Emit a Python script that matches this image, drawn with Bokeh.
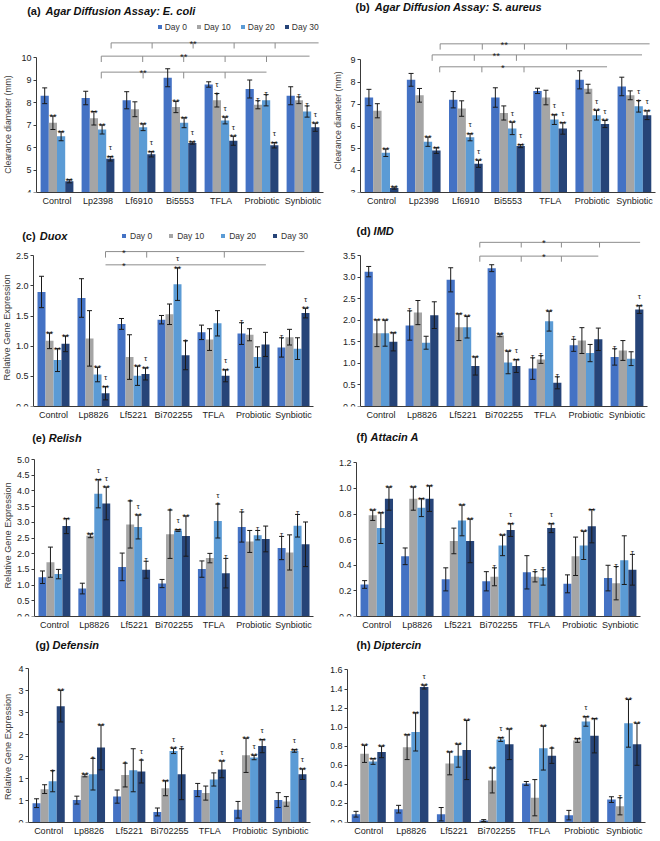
import math
from bokeh.plotting import figure
from bokeh.models import (ColumnDataSource, Range1d, FixedTicker,
                          PrintfTickFormatter, Whisker, TeeHead, Label, Legend, LegendItem)
from bokeh.transform import dodge
from bokeh.layouts import column, row
from bokeh.embed import file_html
from bokeh.resources import INLINE
from bokeh.core.properties import value

# ------------------------------------------------------------------ data
DAYS = ["Day 0", "Day 10", "Day 20", "Day 30"]
CATS_AB = ["Control", "Lp2398", "Lf6910", "Bi5553", "TFLA", "Probiotic", "Synbiotic"]
CATS_GENE = ["Control", "Lp8826", "Lf5221", "Bi702255", "TFLA", "Probiotic", "Synbiotic"]

# (a) Agar diffusion, E. coli  (rows = Day 0, 10, 20, 30)
A_MEAN = [[8.3, 8.2, 8.1, 9.1, 8.8, 8.6, 8.3],
          [7.1, 7.3, 7.7, 7.8, 8.1, 7.9, 8.1],
          [6.5, 6.8, 6.9, 7.1, 7.2, 8.1, 7.6],
          [4.5, 5.5, 5.7, 6.2, 6.3, 6.1, 6.9]]
A_ERR = [[0.35, 0.30, 0.38, 0.40, 0.12, 0.40, 0.40],
         [0.30, 0.30, 0.33, 0.25, 0.30, 0.18, 0.15],
         [0.20, 0.20, 0.15, 0.22, 0.15, 0.25, 0.25],
         [0.07, 0.10, 0.12, 0.05, 0.20, 0.12, 0.18]]
A_SIG = [["", "", "", "", "", "", ""],
         ["**", "**", "", "**", "τ*", "τ", "τ"],
         ["**", "**", "**", "**", "τ**", "τ", "τ"],
         ["**", "τ**", "τ**", "τ**", "τ**", "τ**", "τ**"]]

# (b) Agar diffusion, S. aureus
B_MEAN = [[7.3, 8.1, 7.2, 7.3, 7.6, 8.1, 7.8],
          [6.7, 7.4, 6.8, 6.6, 7.3, 7.7, 7.4],
          [4.8, 5.3, 5.5, 5.9, 6.3, 6.5, 6.9],
          [3.2, 4.9, 4.3, 5.1, 5.9, 6.1, 6.5]]
B_ERR = [[0.37, 0.29, 0.37, 0.44, 0.12, 0.41, 0.42],
         [0.32, 0.31, 0.35, 0.32, 0.33, 0.20, 0.20],
         [0.17, 0.21, 0.16, 0.28, 0.22, 0.22, 0.26],
         [0.05, 0.13, 0.16, 0.07, 0.26, 0.16, 0.20]]
B_SIG = [["", "", "", "", "", "", ""],
         ["", "", "", "", "", "", ""],
         ["**", "**", "τ**", "τ**", "τ**", "τ**", "τ*"],
         ["**", "**", "τ**", "τ**", "τ**", "τ**", "τ**"]]

# (c) Duox
C_MEAN = [[1.90, 1.80, 1.37, 1.44, 1.23, 1.21, 0.98],
          [1.09, 1.13, 0.82, 1.53, 1.11, 1.19, 1.15],
          [0.77, 0.53, 0.51, 2.03, 1.38, 0.82, 0.96],
          [1.04, 0.22, 0.54, 0.85, 0.51, 1.03, 1.55]]
C_ERR = [[0.26, 0.32, 0.09, 0.07, 0.12, 0.18, 0.16],
         [0.13, 0.46, 0.37, 0.17, 0.18, 0.10, 0.13],
         [0.19, 0.12, 0.16, 0.27, 0.21, 0.17, 0.18],
         [0.13, 0.11, 0.10, 0.24, 0.10, 0.20, 0.08]]
C_SIG = [["", "", "", "", "", "τ", "τ"],
         ["**", "", "", "", "", "", ""],
         ["**", "**", "**", "τ**", "", "", ""],
         ["**", "τ**", "τ**", "*", "τ**", "", "τ**"]]

# (d) IMD
D_MEAN = [[3.13, 1.88, 2.94, 3.21, 0.88, 1.42, 1.15],
          [1.70, 2.18, 1.84, 1.65, 1.09, 1.53, 1.30],
          [1.70, 1.48, 1.84, 1.02, 1.98, 1.24, 1.11],
          [1.50, 2.12, 0.94, 0.94, 0.55, 1.56, 2.25]]
D_ERR = [[0.12, 0.34, 0.28, 0.08, 0.25, 0.14, 0.19],
         [0.31, 0.28, 0.31, 0.03, 0.09, 0.30, 0.23],
         [0.30, 0.15, 0.25, 0.26, 0.23, 0.20, 0.16],
         [0.21, 0.31, 0.21, 0.15, 0.14, 0.26, 0.09]]
D_SIG = [["", "τ", "", "", "τ", "τ", "τ"],
         ["**", "", "**", "**", "τ", "", ""],
         ["**", "", "**", "**", "**", "", ""],
         ["**", "", "**", "τ**", "τ", "", "τ**"]]

# (e) Relish
E_MEAN = [[1.25, 0.89, 1.58, 1.05, 1.51, 2.85, 2.18],
          [1.73, 2.57, 2.93, 2.62, 1.86, 2.39, 2.04],
          [1.35, 3.91, 2.85, 2.74, 3.04, 2.59, 2.89],
          [2.88, 3.60, 1.49, 2.56, 1.38, 2.47, 2.30]]
E_ERR = [[0.20, 0.17, 0.44, 0.13, 0.26, 0.48, 0.37],
         [0.48, 0.06, 0.75, 0.77, 0.15, 0.35, 0.56],
         [0.15, 0.45, 0.38, 0.03, 0.54, 0.15, 0.36],
         [0.24, 0.52, 0.27, 0.64, 0.47, 0.41, 0.71]]
E_SIG = [["", "", "", "", "", "τ", "τ"],
         ["", "**", "*", "*", "", "", ""],
         ["", "τ**", "τ**", "τ**", "τ*", "τ", "τ"],
         ["**", "τ**", "τ", "**", "τ", "", ""]]

# (f) Attacin A
F_MEAN = [[0.25, 0.47, 0.29, 0.275, 0.345, 0.255, 0.30],
          [0.79, 0.92, 0.59, 0.31, 0.31, 0.47, 0.26],
          [0.69, 0.85, 0.75, 0.555, 0.305, 0.555, 0.44],
          [0.92, 0.92, 0.59, 0.675, 0.69, 0.705, 0.365]]
F_ERR = [[0.03, 0.065, 0.09, 0.075, 0.13, 0.07, 0.10],
         [0.04, 0.09, 0.10, 0.07, 0.04, 0.15, 0.13],
         [0.12, 0.07, 0.12, 0.08, 0.06, 0.11, 0.19],
         [0.09, 0.10, 0.17, 0.05, 0.035, 0.13, 0.12]]
F_SIG = [["", "", "", "", "", "", ""],
         ["**", "**", "", "τ", "τ", "", "τ"],
         ["**", "**", "**", "**", "τ", "**", ""],
         ["**", "**", "**", "τ**", "τ**", "**", "τ"]]

# (g) Defensin
G_MEAN = [[0.44, 0.51, 0.59, 0.24, 0.74, 0.29, 0.51],
          [0.76, 1.07, 1.08, 0.78, 0.67, 1.53, 0.48],
          [0.94, 1.10, 1.19, 1.63, 0.98, 1.48, 1.63],
          [2.65, 1.71, 1.16, 1.10, 1.21, 1.74, 1.10]]
G_ERR = [[0.10, 0.09, 0.15, 0.09, 0.15, 0.19, 0.17],
         [0.10, 0.03, 0.27, 0.17, 0.16, 0.39, 0.11],
         [0.24, 0.36, 0.49, 0.06, 0.15, 0.05, 0.03],
         [0.36, 0.51, 0.26, 0.58, 0.19, 0.15, 0.12]]
G_SIG = [["", "", "", "", "", "", ""],
         ["", "**", "*", "**", "", "**", ""],
         ["*", "*", "", "τ**", "", "τ**", "τ**"],
         ["**", "**", "τ*", "τ", "τ**", "τ**", "τ**"]]
G_TICK_LABELS = ["0", "1", "1", "2", "2", "3", "3", "4"]

# (h) Diptercin
H_MEAN = [[0.087, 0.14, 0.087, 0.02, 0.41, 0.077, 0.24],
          [0.72, 0.79, 0.62, 0.44, 0.26, 0.86, 0.17],
          [0.64, 0.95, 0.70, 0.87, 0.78, 1.06, 1.04],
          [0.74, 1.42, 0.76, 0.82, 0.70, 0.91, 0.82]]
H_ERR = [[0.03, 0.04, 0.07, 0.01, 0.02, 0.05, 0.03],
         [0.09, 0.13, 0.12, 0.13, 0.19, 0.02, 0.09],
         [0.03, 0.20, 0.12, 0.02, 0.23, 0.05, 0.25],
         [0.06, 0.02, 0.31, 0.16, 0.08, 0.18, 0.22]]
H_SIG = [["", "", "", "", "", "", ""],
         ["**", "**", "**", "**", "", "**", "τ"],
         ["**", "**", "**", "τ**", "**", "τ**", "**"],
         ["**", "τ**", "**", "**", "*", "**", "**"]]

# significance brackets: level (data units), drop length, start/end (category index, offset),
# drop points, label and label position
A_BRACKETS = [
    dict(y=10.65, drop=0.25, start=(1, 0.32), end=(6, 0.38),
         drops=[(1, 0.32), (2, 0.32), (3, 0.32), (4, 0.32), (5, 0.32)], label="**", at=(3, 0.32)),
    dict(y=10.06, drop=0.26, start=(1, 0.08), end=(6, 0.16),
         drops=[(1, 0.08), (2, 0.09), (3, 0.09), (4, 0.1), (5, 0.11)], label="**", at=(3, 0.09)),
    dict(y=9.35, drop=0.28, start=(1, 0.08), end=(5, 0.11),
         drops=[(1, 0.08), (2, 0.1), (3, 0.09), (4, 0.1)], label="**", at=(2, 0.1)),
]
B_BRACKETS = [
    dict(y=9.73, drop=0.26, start=(1, 0.39), end=(6, 0.36),
         drops=[(1, 0.39), (2, 0.39), (3, 0.39), (4, 0.39)], label="**", at=(3, -0.09)),
    dict(y=9.23, drop=0.27, start=(1, 0.2), end=(6, 0.18),
         drops=[(1, 0.2), (2, 0.2), (3, 0.2)], label="**", at=(3, -0.28)),
    dict(y=8.69, drop=0.25, start=(1, 0.38), end=(5, 0.35),
         drops=[(1, 0.38), (2, 0.38), (3, 0.38)], label="*", at=(3, -0.12)),
]
C_BRACKETS = [
    dict(y=2.57, drop=0.1, start=(1, 0.3), end=(6, 0.27),
         drops=[(1, 0.3), (2, 0.33), (4, 0.27)], label="*", at=(1, 0.76)),
    dict(y=2.35, drop=0.0, start=(1, 0.3), end=(5, 0.31),
         drops=[], label="*", at=(1, 0.76)),
]
D_BRACKETS = [
    dict(y=3.81, drop=0.12, start=(2, 0.41), end=(6, 0.32),
         drops=[(2, 0.41), (3, 0.42), (4, 0.4), (5, 0.33)], label="*", at=(4, -0.03)),
    dict(y=3.49, drop=0.13, start=(2, 0.41), end=(5, 0.3),
         drops=[(2, 0.41), (3, 0.42), (4, 0.4)], label="*", at=(4, -0.03)),
]

# ------------------------------------------------------------------ style / layout
FONT = "Liberation Sans"
COLORS = ["#4472C4", "#A5A5A5", "#5B9BD5", "#264478"]
OFFSETS = [-0.3, -0.1, 0.1, 0.3]
BAR_W = 0.2
INK = "#1a1a1a"
FIG_W = 330
COL_X = [0, 330]
ROW_Y = [(0, 215), (215, 425), (425, 633), (633, 841)]
ROW_H = [215, 210, 208, 207]
SX = FIG_W / 330.0
TAG_W = {"a": 556, "b": 611, "c": 556, "d": 611, "e": 556, "f": 333, "g": 611, "h": 611}


def ticks(lo, hi, step):
    n = int(round((hi - lo) / step))
    return [round(lo + i * step, 2) for i in range(n + 1)]


SPECS = [
    dict(cats=CATS_AB, mean=A_MEAN, err=A_ERR, sig=A_SIG, col=0, row=0,
         frame=(36, 323), ypx=(57.3, 192.3), yr=(4, 10), ticks=ticks(4, 10, 1), fmt="%d",
         tag="(a)", tag_xy=(26.7, 10.5), title="Agar Diffusion Assay: E. coli", title_x=45,
         ylabel="Clearance diameter (mm)", ylabel_xy=(7.3, 124), ylabel_size="8.7px",
         legend=dict(xy=(156.7, 26.7), standoff=3, spacing=9), brackets=A_BRACKETS),
    dict(cats=CATS_AB, mean=B_MEAN, err=B_ERR, sig=B_SIG, col=1, row=0,
         frame=(360.5, 655), ypx=(60.7, 196), yr=(3, 9), ticks=ticks(3, 9, 1), fmt="%d",
         tag="(b)", tag_xy=(355, 10), title="Agar Diffusion Assay: S. aureus", title_x=374.3,
         ylabel="Clearance diameter (mm)", ylabel_xy=(337.3, 124), ylabel_size="8.7px",
         legend=None, brackets=B_BRACKETS),
    dict(cats=CATS_GENE, mean=C_MEAN, err=C_ERR, sig=C_SIG, col=0, row=1,
         frame=(33.3, 312.7), ypx=(255, 405.7), yr=(0, 2.5), ticks=ticks(0, 2.5, 0.5), fmt="%.1f",
         tag="(c)", tag_xy=(21.7, 235.7), title="Duox", title_x=39.3,
         ylabel="Relative Gene Expression", ylabel_xy=(6.7, 327), ylabel_size="9.2px",
         legend=dict(xy=(121, 235.7), standoff=4, spacing=16), brackets=C_BRACKETS),
    dict(cats=CATS_GENE, mean=D_MEAN, err=D_ERR, sig=D_SIG, col=1, row=1,
         frame=(359.5, 647), ypx=(255.7, 407.3), yr=(0, 3.5), ticks=ticks(0, 3.5, 0.5), fmt="%.1f",
         tag="(d)", tag_xy=(356, 231.7), title="IMD", title_x=370.7,
         ylabel=None, legend=None, brackets=D_BRACKETS),
    dict(cats=CATS_GENE, mean=E_MEAN, err=E_ERR, sig=E_SIG, col=0, row=2,
         frame=(34, 312.6), ypx=(459, 616), yr=(0, 5), ticks=ticks(0, 5, 0.5), fmt="%.1f",
         tag="(e)", tag_xy=(31.7, 437.7), title="Relish", title_x=46.7,
         ylabel="Relative Gene Expression", ylabel_xy=(7.3, 535), ylabel_size="9.2px",
         legend=None, brackets=[]),
    dict(cats=CATS_GENE, mean=F_MEAN, err=F_ERR, sig=F_SIG, col=1, row=2,
         frame=(356, 640.5), ypx=(462, 615.7), yr=(0, 1.2), ticks=ticks(0, 1.2, 0.2), fmt="%.1f",
         tag="(f)", tag_xy=(356, 436.7), title="Attacin A", title_x=369.3,
         ylabel=None, legend=None, brackets=[]),
    dict(cats=CATS_GENE, mean=G_MEAN, err=G_ERR, sig=G_SIG, col=0, row=3,
         frame=(28, 310.5), ypx=(668.3, 822.7), yr=(0, 3.5), ticks=ticks(0, 3.5, 0.5), fmt=None,
         tick_labels=G_TICK_LABELS,
         tag="(g)", tag_xy=(35, 645), title="Defensin", title_x=51.7,
         ylabel="Relative Gene Expression", ylabel_xy=(7.3, 747), ylabel_size="9.2px",
         legend=None, brackets=[]),
    dict(cats=CATS_GENE, mean=H_MEAN, err=H_ERR, sig=H_SIG, col=1, row=3,
         frame=(347, 644.6), ypx=(670, 823.3), yr=(0, 1.6), ticks=ticks(0, 1.6, 0.2), fmt="%.1f",
         tag="(h)", tag_xy=(356, 645), title="Diptercin", title_x=371.7,
         ylabel=None, legend=None, brackets=[]),
]


def make_panel(spec):
    ox = COL_X[spec["col"]]
    oy0, oy1 = ROW_Y[spec["row"]]
    fh = ROW_H[spec["row"]]
    sy = fh / float(oy1 - oy0)

    def lx(X):
        return SX * (X - ox)

    def ly(Y):
        return sy * (Y - oy0)

    cats = spec["cats"]
    n = len(cats)
    xc = [i + 0.5 for i in range(n)]

    # horizontal: frame covers whole figure width, y axis is pinned at x = 0
    fl = int(round(lx(spec["frame"][0])))
    fr = int(round(lx(spec["frame"][1])))
    ppx = (fr - fl) / float(n)
    x_start = -fl / ppx
    x_end = n + (FIG_W - fr) / ppx

    # vertical: frame from the figure top to the x axis
    fb = int(round(ly(spec["ypx"][1])))
    ymin, ymax = spec["yr"]
    ppu = (ly(spec["ypx"][1]) - ly(spec["ypx"][0])) / (ymax - ymin)
    y_end = ymin + fb / ppu

    def scr_x(X):
        return lx(X)

    def scr_y(Y):
        return fb - ly(Y)

    p = figure(width=FIG_W, height=fh, x_range=Range1d(x_start, x_end), y_range=Range1d(ymin, y_end),
               min_border_left=0, min_border_right=0, min_border_top=0,
               min_border_bottom=fh - fb, output_backend="svg", toolbar_location=None,
               tools="", title=None)
    p.outline_line_color = None
    p.xgrid.visible = False
    p.ygrid.visible = False
    p.background_fill_color = "white"
    p.border_fill_color = "white"

    # y axis
    ya = p.yaxis[0]
    ya.fixed_location = 0
    ya.ticker = FixedTicker(ticks=spec["ticks"])
    ya.bounds = (ymin, ymax)
    if spec["fmt"]:
        ya.formatter = PrintfTickFormatter(format=spec["fmt"])
    else:
        ya.major_label_overrides = {t: lab for t, lab in zip(spec["ticks"], spec["tick_labels"])}
    ya.major_tick_out = 3
    ya.major_tick_in = 0
    ya.minor_tick_line_color = None
    ya.major_label_standoff = 2
    ya.axis_line_color = "#3a3a3a"
    ya.major_tick_line_color = "#3a3a3a"
    ya.major_label_text_font = FONT
    ya.major_label_text_font_size = "9px"
    ya.major_label_text_color = "#222222"

    # x axis with the category names
    xa = p.xaxis[0]
    xa.ticker = FixedTicker(ticks=xc)
    xa.major_label_overrides = {x: c for x, c in zip(xc, cats)}
    xa.bounds = (0, n)
    xa.minor_tick_line_color = None
    xa.major_tick_out = 0
    xa.major_tick_in = 0
    xa.major_label_standoff = 3
    xa.axis_line_color = "#3a3a3a"
    xa.major_label_text_font = FONT
    xa.major_label_text_font_size = "9px"
    xa.major_label_text_color = "#222222"

    # bars, error bars and significance marks
    rends = []
    for d in range(4):
        m = spec["mean"][d]
        e = spec["err"][d]
        s = spec["sig"][d]
        stars = [t.replace("τ", "") for t in s]
        src = ColumnDataSource(dict(
            xc=xc, top=m,
            up=[a + b for a, b in zip(m, e)],
            lo=[a - b for a, b in zip(m, e)],
            stars=stars,
            tau=["τ" if "τ" in t else "" for t in s],
            tau_off=[-9 if st else -1.5 for st in stars],
        ))
        xd = dodge("xc", OFFSETS[d])
        r = p.vbar(x=xd, top="top", bottom=ymin, width=BAR_W, source=src,
                   fill_color=COLORS[d], line_color=None)
        rends.append(r)
        w = Whisker(base=xd, upper="up", lower="lo", source=src,
                    line_color=INK, line_width=1, level="annotation",
                    upper_head=TeeHead(size=5, line_color=INK, line_width=1),
                    lower_head=TeeHead(size=5, line_color=INK, line_width=1))
        p.add_layout(w)
        p.text(x=xd, y="up", text="stars", source=src, text_font=value(FONT),
               text_font_size="9.5px", text_align="center",
               text_baseline="alphabetic", y_offset=0.5, text_color=INK)
        p.text(x=xd, y="up", text="tau", source=src, text_font=value(FONT),
               text_font_size="8px", text_align="center", text_baseline="alphabetic",
               y_offset="tau_off", text_color=INK)

    # brackets
    if spec["brackets"]:
        x0, x1, y0, y1 = [], [], [], []
        bx, by, bt = [], [], []
        for b in spec["brackets"]:
            x0.append(xc[b["start"][0]] + b["start"][1])
            x1.append(xc[b["end"][0]] + b["end"][1])
            y0.append(b["y"])
            y1.append(b["y"])
            for ci, off in b["drops"]:
                x0.append(xc[ci] + off)
                x1.append(xc[ci] + off)
                y0.append(b["y"])
                y1.append(b["y"] - b["drop"])
            bx.append(xc[b["at"][0]] + b["at"][1])
            by.append(b["y"])
            bt.append(b["label"])
        bsrc = ColumnDataSource(dict(x0=x0, x1=x1, y0=y0, y1=y1))
        p.segment(x0="x0", x1="x1", y0="y0", y1="y1", source=bsrc,
                  line_color="#8c8c8c", line_width=1)
        lsrc = ColumnDataSource(dict(x=bx, y=by, t=bt))
        p.text(x="x", y="y", text="t", source=lsrc, text_font=value(FONT),
               text_font_size="9.5px", text_align="center",
               text_baseline="alphabetic", y_offset=0.5, text_color=INK)

    # titles
    tx, ty = spec["tag_xy"]
    letter = spec["tag"][1]
    tag_w = (333 * 2 + TAG_W[letter] + 278) / 1000.0 * 11
    title_sx = max(scr_x(spec["title_x"]), scr_x(tx) + tag_w)
    p.add_layout(Label(x=scr_x(tx), y=scr_y(ty), x_units="screen", y_units="screen",
                       text=spec["tag"], text_font=FONT, text_font_size="11px",
                       text_font_style="bold", text_baseline="middle", text_align="left",
                       text_color="#111111"))
    p.add_layout(Label(x=title_sx, y=scr_y(ty), x_units="screen", y_units="screen",
                       text=spec["title"], text_font=FONT, text_font_size="11px",
                       text_font_style="bold italic", text_baseline="middle", text_align="left",
                       text_color="#111111"))
    if spec["ylabel"]:
        yx, yy = spec["ylabel_xy"]
        p.add_layout(Label(x=scr_x(yx), y=scr_y(yy), x_units="screen", y_units="screen",
                           text=spec["ylabel"], angle=math.pi / 2, text_font=FONT,
                           text_font_size=spec["ylabel_size"], text_baseline="middle",
                           text_align="center", text_color="#404040"))

    # legend
    lg = spec["legend"]
    if lg:
        gx, gy = lg["xy"]
        leg = Legend(items=[LegendItem(label=DAYS[i], renderers=[rends[i]]) for i in range(4)],
                     orientation="horizontal",
                     location=(scr_x(gx), scr_y(gy) - 5),
                     glyph_width=5, glyph_height=5, label_standoff=lg["standoff"],
                     spacing=lg["spacing"], padding=0, margin=0,
                     label_text_font=FONT, label_text_font_size="8.5px",
                     label_text_color="#333333", label_height=10,
                     background_fill_alpha=0, border_line_alpha=0)
        p.add_layout(leg)
    return p


panels = [make_panel(s) for s in SPECS]
layout = column(row(panels[0], panels[1]), row(panels[2], panels[3]),
                row(panels[4], panels[5]), row(panels[6], panels[7]))

open("out.html", "w").write(file_html(layout, INLINE))
